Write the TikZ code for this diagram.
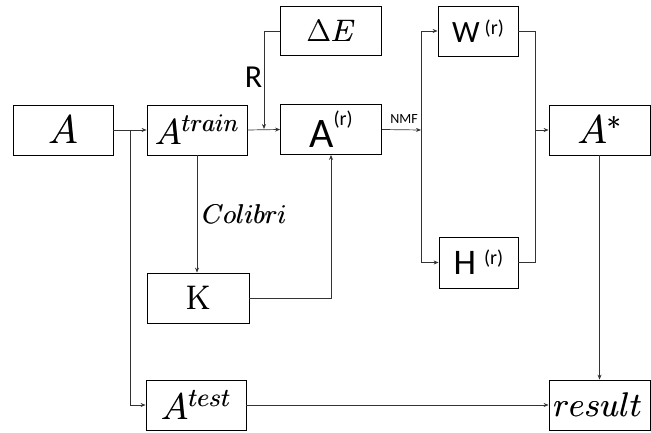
\documentclass[tikz,border=0pt]{standalone}
\usepackage{fix-cm}
\usepackage{fontspec}
\setsansfont{Carlito}
\usetikzlibrary{arrows.meta}
\newcommand\myraise[3]{\raisebox{#1}{\fontsize{#2}{#2}\selectfont #3}}
\newcommand\hv[1]{\leavevmode\rlap{#1}\kern0.6pt#1}
\begin{document}
\begin{tikzpicture}[x=1pt,y=-1pt,
  box/.style={draw, line width=0.8pt, minimum width=100pt, minimum height=50pt, inner sep=0pt, font=\fontsize{36}{40}\selectfont},
  arr/.style={-{Stealth[length=5pt,width=4pt]}, line width=0.7pt, draw=black!80},
  ln/.style={line width=0.7pt, draw=black!80}]
\useasboundingbox (0,0) rectangle (651,433);
\node[box, font=\fontsize{40}{44}\selectfont] (A) at (63,130) {\hv{$A$}};
\node[box] (Atrain) at (197,130) {\hv{$A^{train}$}};
\node[box, minimum width=101pt, font=\fontsize{42}{44}\selectfont] (Ar) at (331,129.5) {\sffamily A\myraise{22pt}{20}{(r)}};
\node[box, minimum width=101pt, minimum height=49pt, font=\fontsize{31}{36}\selectfont] (DE) at (331,31) {\hv{$\Delta E$}};
\node[box, minimum width=80pt, font=\fontsize{31}{36}\selectfont] (W) at (478,31) {\sffamily W\hspace{5pt}\myraise{8pt}{20}{(r)}};
\node[box, minimum width=101pt, font=\fontsize{40}{44}\selectfont] (Astar) at (599.5,130) {\hv{$A^{*}$}};
\node[box, minimum width=79pt, minimum height=51pt, font=\fontsize{36}{38}\selectfont] (H) at (478.5,262.5) {\sffamily H\hspace{8pt}\myraise{10pt}{20}{(r)}};
\node[box, minimum width=102pt, font=\fontsize{34}{36}\selectfont] (K) at (198,298) {\hv{K}};
\node[box, font=\fontsize{37}{40}\selectfont] (Atest) at (196,405) {\hv{$A^{test}$}};
\node[box, minimum width=101pt, font=\fontsize{34}{38}\selectfont] (result) at (599.5,405) {\hspace*{4pt}\makebox[97pt][l]{\hv{$result$}}};
\node (R) at (253.5,77) {\fontsize{32}{34}\selectfont\sffamily R};
\node[anchor=west, inner sep=0pt] (Col) at (202,214) {\fontsize{27}{30}\selectfont \hv{$Colibri$}};
\node[inner sep=0pt] (NMF) at (404,119) {\fontsize{14}{15}\selectfont\sffamily NMF};
\coordinate (s1) at (130,130);
\coordinate (r1) at (264,129);
\coordinate (n) at (421,130);
\coordinate (m) at (535,130);
\draw[arr] (A.east) -- (Atrain.west);
\draw[arr] (s1) |- (Atest.west);
\draw[arr] (Atrain.east) -- (Ar.west);
\draw[arr] (DE.west) -| (r1);
\draw[arr] (Atrain.south) -- (Atrain.south |- K.north);
\draw[arr] (K.east) -| (Ar.south);
\draw[arr] (Ar.east) -- (n);
\draw[arr] (n) |- (W.west);
\draw[arr] (n) |- (H.west);
\draw[ln] (W.east) -| (m);
\draw[ln] (H.east) -| (m);
\draw[arr] (m) -- (Astar.west);
\draw[arr] (Astar.south) -- (Astar.south |- result.north);
\draw[arr] (Atest.east) -- (result.west);
\end{tikzpicture}
\end{document}
